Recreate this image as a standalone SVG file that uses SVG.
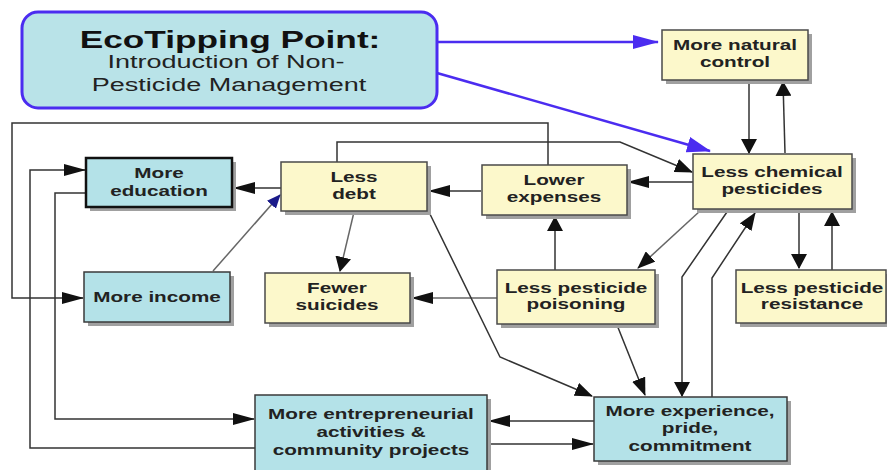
<svg xmlns="http://www.w3.org/2000/svg" width="887" height="470" viewBox="0 0 887 470">
<style>
.bg{fill:#ffffff}
.y{fill:#fcf8cb;stroke:#4a4a4a;stroke-width:1.5}
.c{fill:#b4e2e8;stroke:#3a3a3a;stroke-width:1.5}
.sh{fill:#a0a0a0}
.n{font-family:"Liberation Sans",Arial,sans-serif;font-weight:bold;font-size:15px;fill:#222;text-anchor:middle}
.t{font-family:"Liberation Sans",Arial,sans-serif;font-weight:bold;font-size:23.5px;fill:#111;text-anchor:middle}
.s{font-family:"Liberation Sans",Arial,sans-serif;font-size:18.5px;fill:#222;text-anchor:middle}
.l{fill:none;stroke:#333;stroke-width:1.5}
.g{fill:none;stroke:#666;stroke-width:1.5}
.b{fill:none;stroke:#4b2cf0;stroke-width:2.5}
</style>
<defs>
<marker id="ah" viewBox="0 0 22 12" markerWidth="22" markerHeight="12" refX="21" refY="6" orient="auto" markerUnits="userSpaceOnUse"><path d="M0,0 L22,6 L0,12 z" fill="#111"/></marker>
<marker id="av" viewBox="0 0 15 16" markerWidth="15" markerHeight="16" refX="14" refY="8" orient="auto" markerUnits="userSpaceOnUse"><path d="M0,0 L15,8 L0,16 z" fill="#111"/></marker>
<marker id="ad" viewBox="0 0 18 14" markerWidth="18" markerHeight="14" refX="17" refY="7" orient="auto" markerUnits="userSpaceOnUse"><path d="M0,0 L18,7 L0,14 z" fill="#111"/></marker>
<marker id="an" viewBox="0 0 14 12" markerWidth="14" markerHeight="12" refX="13" refY="6" orient="auto" markerUnits="userSpaceOnUse"><path d="M0,0 L14,6 L0,12 z" fill="#1a1a8a"/></marker>
<marker id="bh" viewBox="0 0 26 14" markerWidth="26" markerHeight="14" refX="25" refY="7" orient="auto" markerUnits="userSpaceOnUse"><path d="M0,0 L26,7 L0,14 z" fill="#4b2cf0"/></marker>
<marker id="bd" viewBox="0 0 24 16" markerWidth="24" markerHeight="16" refX="23" refY="8" orient="auto" markerUnits="userSpaceOnUse"><path d="M0,0 L24,8 L0,16 z" fill="#4b2cf0"/></marker>
</defs>
<rect class="bg" x="0" y="0" width="887" height="470"/>

<g id="connectors">
<path class="b" d="M437,42 L658,42" marker-end="url(#bh)"/>
<path class="b" d="M437,73 L710,151" marker-end="url(#bd)"/>
<path class="l" d="M749,82 L749,153" marker-end="url(#av)"/>
<path class="l" d="M785,153 L783,82" marker-end="url(#av)"/>
<path class="l" d="M693,182 L628,182" marker-end="url(#ah)"/>
<path class="l" d="M481,191 L429,191" marker-end="url(#ah)"/>
<path class="l" d="M281,188 L234,188" marker-end="url(#ah)"/>
<path class="g" d="M213,271 L280,195" marker-end="url(#an)"/>
<path class="g" d="M354,212 L340,271" marker-end="url(#av)"/>
<path class="g" d="M497,298 L412,298" marker-end="url(#ah)"/>
<path class="l" d="M555,270 L555,217" marker-end="url(#av)"/>
<path class="g" d="M700,211 L638,268" marker-end="url(#ad)"/>
<path class="l" d="M617,325 L645,395" marker-end="url(#ad)"/>
<path class="l" d="M727,212 L682,277 L682,396" marker-end="url(#av)"/>
<path class="l" d="M712,397 L712,278 L755,213" marker-end="url(#ad)"/>
<path class="l" d="M799,211 L799,268" marker-end="url(#av)"/>
<path class="l" d="M832,270 L832,212" marker-end="url(#av)"/>
<path class="l" d="M427,208 L500,357 L592,396" marker-end="url(#ad)"/>
<path class="l" d="M594,421 L489,421" marker-end="url(#ah)"/>
<path class="l" d="M487,444 L593,444" marker-end="url(#ah)"/>
<path class="l" d="M86,193 L55,193 L55,419 L254,419" marker-end="url(#ah)"/>
<path class="l" d="M255,448 L30,448 L30,170 L85,170" marker-end="url(#ah)"/>
<path class="l" d="M548,165 L548,123 L12,123 L12,298 L83,298" marker-end="url(#ah)"/>
<path class="l" d="M337,162 L337,142 L620,142 L692,172" marker-end="url(#ad)"/>
</g>

<g id="ecotipping">
<rect x="22" y="12" width="415" height="96" rx="16" fill="#b9e3e8" stroke="#4b2cf0" stroke-width="3"/>
<text class="t" transform="translate(230,0) scale(1.5,1)"><tspan x="0" y="48">EcoTipping Point:</tspan></text>
<text class="s" transform="translate(226,0) scale(1.46,1)"><tspan x="0" y="68">Introduction of Non-</tspan><tspan x="2" y="91">Pesticide Management</tspan></text>
</g>

<g id="natural">
<rect class="sh" x="666" y="34" width="146" height="50"/>
<rect class="y" x="662" y="30" width="146" height="50"/>
<text class="n" transform="translate(735,0) scale(1.38,1)"><tspan x="0" y="50">More natural</tspan><tspan x="0" y="67">control</tspan></text>
</g>

<g id="chemical">
<rect class="sh" x="697" y="158" width="159" height="55"/>
<rect class="y" x="693" y="154" width="159" height="55"/>
<text class="n" transform="translate(772,0) scale(1.38,1)"><tspan x="0" y="177">Less chemical</tspan><tspan x="0" y="194">pesticides</tspan></text>
</g>

<g id="lower">
<rect class="sh" x="486" y="169" width="145" height="50"/>
<rect class="y" x="482" y="165" width="145" height="50"/>
<text class="n" transform="translate(554,0) scale(1.38,1)"><tspan x="0" y="185">Lower</tspan><tspan x="0" y="202">expenses</tspan></text>
</g>

<g id="debt">
<rect class="sh" x="285" y="166" width="146" height="49"/>
<rect class="y" x="281" y="162" width="146" height="49"/>
<text class="n" transform="translate(354,0) scale(1.38,1)"><tspan x="0" y="182">Less</tspan><tspan x="0" y="199">debt</tspan></text>
</g>

<g id="education">
<rect class="sh" x="90" y="162" width="146" height="49"/>
<rect x="86" y="158" width="146" height="49" fill="#b4e2e8" stroke="#111" stroke-width="2.5"/>
<text class="n" transform="translate(159,0) scale(1.38,1)"><tspan x="0" y="178">More</tspan><tspan x="0" y="196">education</tspan></text>
</g>

<g id="income">
<rect class="sh" x="88" y="276" width="146" height="50"/>
<rect class="c" x="84" y="272" width="146" height="50"/>
<text class="n" transform="translate(157,0) scale(1.38,1)"><tspan x="0" y="302">More income</tspan></text>
</g>

<g id="suicides">
<rect class="sh" x="269" y="277" width="145" height="50"/>
<rect class="y" x="265" y="273" width="145" height="50"/>
<text class="n" transform="translate(337,0) scale(1.38,1)"><tspan x="0" y="293">Fewer</tspan><tspan x="0" y="310">suicides</tspan></text>
</g>

<g id="poisoning">
<rect class="sh" x="501" y="274" width="158" height="54"/>
<rect class="y" x="497" y="270" width="158" height="54"/>
<text class="n" transform="translate(576,0) scale(1.38,1)"><tspan x="0" y="293">Less pesticide</tspan><tspan x="0" y="309">poisoning</tspan></text>
</g>

<g id="resistance">
<rect class="sh" x="740" y="274" width="150" height="53"/>
<rect class="y" x="736" y="270" width="150" height="53"/>
<text class="n" transform="translate(812,0) scale(1.38,1)"><tspan x="0" y="293">Less pesticide</tspan><tspan x="0" y="309">resistance</tspan></text>
</g>

<g id="experience">
<rect class="sh" x="598" y="401" width="193" height="64"/>
<rect class="c" x="594" y="397" width="193" height="64"/>
<text class="n" transform="translate(690,0) scale(1.38,1)"><tspan x="0" y="416">More experience,</tspan><tspan x="0" y="433">pride,</tspan><tspan x="0" y="451">commitment</tspan></text>
</g>

<g id="entrepreneurial">
<rect class="sh" x="259" y="399" width="232" height="75"/>
<rect class="c" x="255" y="395" width="232" height="76"/>
<text class="n" transform="translate(371,0) scale(1.38,1)"><tspan x="0" y="419">More entrepreneurial</tspan><tspan x="0" y="437">activities &amp;</tspan><tspan x="0" y="455">community projects</tspan></text>
</g>
</svg>
